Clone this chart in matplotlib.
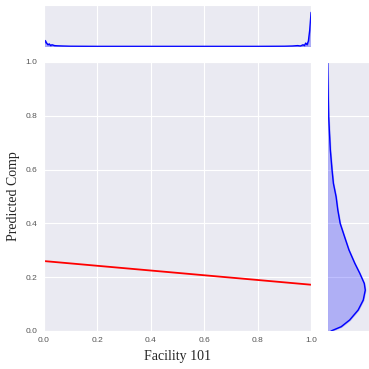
import matplotlib
matplotlib.use("Agg")
import matplotlib.pyplot as plt
import seaborn as sns

sns.set_style("darkgrid")

# regression line (Facility 101 -> Predicted Comp)
line_x = [0.0, 1.0]
line_y = [0.26, 0.172]

# top marginal: density of Facility 101
top_x = [0.0, 0.005, 0.01, 0.015, 0.02, 0.025, 0.03, 0.04, 0.05, 0.07, 0.1, 0.2, 0.3, 0.4, 0.5,
         0.6, 0.7, 0.8, 0.9, 0.93, 0.95, 0.96, 0.97, 0.975, 0.98, 0.985, 0.99, 0.995, 1.0]
top_d = [0.04, 0.15, 0.09, 0.05, 0.07, 0.03, 0.05, 0.03, 0.025, 0.02, 0.015, 0.012, 0.012, 0.012, 0.012,
         0.012, 0.012, 0.012, 0.015, 0.02, 0.03, 0.02, 0.05, 0.03, 0.09, 0.05, 0.14, 0.40, 0.82]

# right marginal: density of Predicted Comp
right_y = [0.0, 0.016, 0.041, 0.078, 0.115, 0.152, 0.177, 0.214, 0.252, 0.301, 0.35,
           0.40, 0.45, 0.499, 0.549, 0.599, 0.673, 0.797, 1.0]
right_d = [12, 42, 67, 92, 107, 113, 110, 97, 82, 65, 52,
           39, 32, 27, 19, 15, 10, 5, 2]

fig = plt.figure(figsize=(3.69, 3.69), dpi=100)
ax = fig.add_axes([0.119, 0.103, 0.724, 0.729])
ax_top = fig.add_axes([0.119, 0.873, 0.724, 0.114], sharex=ax)
ax_right = fig.add_axes([0.886, 0.103, 0.114, 0.729], sharey=ax)

ax.plot(line_x, line_y, color="red", lw=1.3)
ax.set_xlim(0, 1)
ax.set_ylim(0, 1)
ax.set_xlabel("Facility 101", family="Liberation Serif", fontsize=10)
ax.set_ylabel("Predicted Comp", family="Liberation Serif", fontsize=10)
ax.tick_params(labelsize=6, pad=1, colors="#555555")
for lab in ax.get_xticklabels() + ax.get_yticklabels():
    lab.set_family("Liberation Sans")

ax_top.plot(top_x, top_d, color="blue", lw=1)
ax_top.fill_between(top_x, top_d, color="blue", alpha=0.25)
ax_top.set_ylim(0, 1)
ax_top.tick_params(labelbottom=False, labelleft=False, length=0)

ax_right.plot(right_d, right_y, color="blue", lw=1)
ax_right.fill_betweenx(right_y, right_d, color="blue", alpha=0.25)
ax_right.set_xlim(0, 124)
ax_right.tick_params(labelbottom=False, labelleft=False, length=0)
ax_right.grid(axis="x", visible=False)
ax_top.grid(axis="y", visible=False)

fig.savefig("out.png", dpi=100)
